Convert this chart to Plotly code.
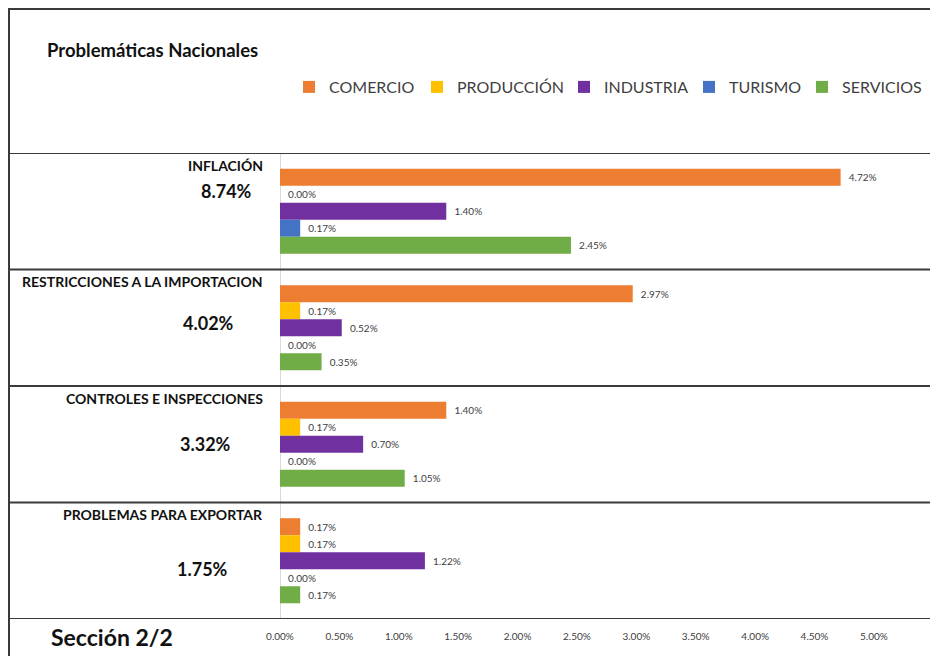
import plotly.graph_objects as go

# Data (values in %)
categories = ['INFLACIÓN', 'RESTRICCIONES A LA IMPORTACION',
              'CONTROLES E INSPECCIONES', 'PROBLEMAS PARA EXPORTAR']
totals = ['8.74%', '4.02%', '3.32%', '1.75%']

comercio = [4.72, 2.97, 1.40, 0.17]
produccion = [0.00, 0.17, 0.17, 0.17]
industria = [1.40, 0.52, 0.70, 1.22]
turismo = [0.17, 0.00, 0.00, 0.00]
servicios = [2.45, 0.35, 1.05, 0.17]

series_names = ['COMERCIO', 'PRODUCCIÓN', 'INDUSTRIA', 'TURISMO', 'SERVICIOS']
tick_values = [0, 0.5, 1, 1.5, 2, 2.5, 3, 3.5, 4, 4.5, 5]
tick_labels = ['0.00%', '0.50%', '1.00%', '1.50%', '2.00%', '2.50%',
               '3.00%', '3.50%', '4.00%', '4.50%', '5.00%']

colors = ['#ED7D31', '#FFC000', '#7030A0', '#4472C4', '#70AD47']
legend_widths = [83, 102, 80, 68, 80]
FONT = 'Lato'

# Figure geometry (figure pixels; the page adds an 8px offset)
W, H = 930, 648
L, T, B = 272, 145, 611
OFF = 8


def sx(p):
    # screen x pixel -> paper x
    return (p - OFF - L) / (W - L)


def sy(p):
    # screen y pixel -> paper y
    return (B - (p - OFF)) / (B - T)


fig = go.Figure()
for name, vals, col, lw in zip(series_names,
                               [comercio, produccion, industria, turismo, servicios],
                               colors, legend_widths):
    fig.add_trace(go.Bar(
        y=categories, x=vals, name=name, orientation='h',
        marker=dict(color=col, line=dict(width=0)),
        text=vals, texttemplate='\u00a0\u00a0%{x:.2f}%', textposition='outside',
        textfont=dict(size=10, color='#404040', family=FONT),
        constraintext='none', cliponaxis=False, legendwidth=lw,
    ))

# Category names and totals in the left column
total_shift = [20, 5, 0, -8]
total_right = [254, 236, 233, 230]
for i, cat in enumerate(categories):
    fig.add_annotation(x=sx(265), xref='paper', y=cat, yref='y', yshift=46,
                       text='<b>%s</b>' % cat, showarrow=False, xanchor='right',
                       font=dict(size=14, color='#111111', family=FONT))
    fig.add_annotation(x=sx(total_right[i]), xref='paper', y=cat, yref='y',
                       yshift=total_shift[i], text='<b>%s</b>' % totals[i],
                       showarrow=False, xanchor='right',
                       font=dict(size=18, color='#111111', family=FONT))

fig.add_annotation(x=sx(45), xref='paper', y=sy(50), yref='paper',
                   text='<b>Problemáticas Nacionales</b>', showarrow=False,
                   xanchor='left', yanchor='middle',
                   font=dict(size=18.5, color='#111111', family=FONT))
fig.add_annotation(x=sx(112), xref='paper', y=sy(637), yref='paper',
                   text='<b>Sección 2/2</b>', showarrow=False,
                   xanchor='center', yanchor='middle',
                   font=dict(size=23, color='#111111', family=FONT))

# Table-like frame lines
line_style = dict(color='#3a3a3a', width=2)
for k in range(len(categories) + 1):
    fig.add_shape(type='line', xref='paper', yref='y',
                  x0=sx(8), x1=1.01, y0=k - 0.5, y1=k - 0.5, line=line_style)
fig.add_shape(type='line', xref='paper', yref='paper',
              x0=sx(8), x1=1.01, y0=sy(9), y1=sy(9), line=line_style)
fig.add_shape(type='line', xref='paper', yref='paper',
              x0=sx(9), x1=sx(9), y0=sy(9), y1=sy(660), line=line_style)

fig.update_layout(
    width=W, height=H,
    margin=dict(l=L, r=0, t=T, b=H - B),
    barmode='group', bargap=0.27, bargroupgap=0,
    plot_bgcolor='white', paper_bgcolor='white',
    font=dict(family=FONT, color='#404040'),
    showlegend=True,
    legend=dict(orientation='h', x=sx(289), y=sy(87), xanchor='left',
                yanchor='middle', font=dict(size=16, color='#404040', family=FONT),
                traceorder='normal'),
    xaxis=dict(range=[0, 5.54], tickmode='array', tickvals=tick_values,
               ticktext=tick_labels, showgrid=False,
               zeroline=True, zerolinecolor='#d9d9d9', zerolinewidth=1,
               ticks='outside', ticklen=8, tickcolor='rgba(0,0,0,0)',
               tickfont=dict(size=10, color='#404040', family=FONT),
               fixedrange=True),
    yaxis=dict(range=[3.5, -0.5], showticklabels=False, showgrid=False,
               zeroline=False, fixedrange=True),
)

fig.write_html("out.html")
